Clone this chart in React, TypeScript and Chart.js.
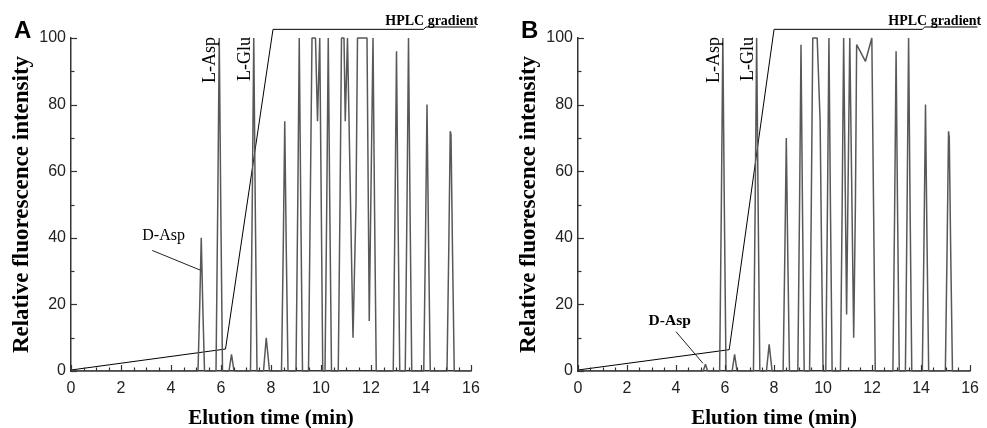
import React, { useEffect, useRef } from 'react';
import { Chart, registerables } from 'chart.js';
Chart.register(...registerables);

// ---- axis ticks ----
const xTickLabels = [0, 2, 4, 6, 8, 10, 12, 14, 16];
const yTickLabels = [0, 20, 40, 60, 80, 100];
const xMinorStep = 0.5;
const yMinorStep = 10;

// ---- Panel A chromatogram trace (time in min, relative intensity) ----
const signalTimeA = [0,
  5.08, 5.15, 5.21, 5.27, 5.34,
  5.80, 5.87, 5.93, 5.99, 6.06,
  6.32, 6.42, 6.52,
  7.18, 7.25, 7.31, 7.37, 7.44,
  7.70, 7.81, 7.94,
  8.42, 8.49, 8.55, 8.61, 8.68,
  9.00, 9.07, 9.13, 9.19, 9.26,
  9.50, 9.57, 9.64, 9.78, 9.86, 9.95, 10.01, 10.07,
  10.16, 10.23, 10.29, 10.35, 10.42,
  10.69, 10.76, 10.82, 10.92, 10.97, 11.06, 11.28, 11.40, 11.46, 11.84, 11.93, 12.08, 12.14, 12.21,
  12.89, 12.96, 13.02, 13.08, 13.15,
  13.37, 13.44, 13.50, 13.56, 13.63,
  14.11, 14.18, 14.24, 14.30, 14.37,
  15.04, 15.11, 15.17, 15.20, 15.26, 15.33,
  16];
const signalValueA = [0,
  0, 20, 40, 20, 0,
  0, 50, 100, 50, 0,
  0, 5, 0,
  0, 50, 100, 50, 0,
  0, 10, 0,
  0, 37, 75, 37, 0,
  0, 50, 100, 50, 0,
  0, 50, 100, 100, 75, 100, 50, 0,
  0, 50, 100, 50, 0,
  0, 50, 100, 100, 75, 100, 10, 50, 100, 100, 15, 100, 50, 0,
  0, 48, 96, 48, 0,
  0, 50, 100, 50, 0,
  0, 40, 80, 40, 0,
  0, 36, 72, 71, 36, 0,
  0];
const gradientTimeA = [0, 6.18, 8.08, 14.1, 14.2, 16.2];
const gradientValueA = [0.3, 6.6, 102.6, 102.6, 103.3, 103.3];

// ---- Panel B chromatogram trace ----
const signalTimeB = [0,
  5.11, 5.20, 5.29,
  5.78, 5.85, 5.91, 5.97, 6.04,
  6.29, 6.39, 6.49,
  7.16, 7.23, 7.29, 7.35, 7.42,
  7.69, 7.80, 7.92,
  8.37, 8.44, 8.50, 8.56, 8.63,
  8.97, 9.04, 9.10, 9.16, 9.23,
  9.45, 9.52, 9.58, 9.76, 9.88, 9.94, 10.00,
  10.11, 10.18, 10.24, 10.30, 10.37,
  10.71, 10.78, 10.84, 10.96, 11.09, 11.25, 11.32, 11.37, 11.73, 11.99, 12.06, 12.13,
  12.85, 12.92, 12.98, 13.04, 13.11,
  13.36, 13.43, 13.49, 13.55, 13.62,
  14.05, 14.12, 14.18, 14.24, 14.31,
  14.99, 15.06, 15.12, 15.15, 15.21, 15.28,
  16];
const signalValueB = [0,
  0, 2, 0,
  0, 50, 100, 50, 0,
  0, 5, 0,
  0, 50, 100, 50, 0,
  0, 8, 0,
  0, 35, 70, 35, 0,
  0, 49, 98, 49, 0,
  0, 50, 100, 100, 75, 35, 0,
  0, 50, 100, 50, 0,
  0, 50, 100, 17, 100, 10, 50, 98, 93, 100, 50, 0,
  0, 48, 96, 48, 0,
  0, 50, 100, 50, 0,
  0, 40, 80, 40, 0,
  0, 36, 72, 70, 35, 0,
  0];
const gradientTimeB = [0, 6.17, 8.0, 14.05, 14.15, 16.3];
const gradientValueB = [0.3, 6.4, 102.6, 102.6, 103.3, 103.3];

// ---- annotation anchors (data units) ----
const labelLAspTime = [5.93, 5.91];
const labelLGluTime = [7.31, 7.29];
const labelDAspText = [[2.85, 40.5], [2.88, 15]];
const leaderDAsp = [[3.25, 36.2, 5.17, 30.3], [4.0, 11.8, 5.1, 2.3]];
const hplcLabelAt = [[12.57, 103.8], [12.66, 103.8]];

const CA_LEFT = 71;
const CA_RIGHT = 471;
const CA_TOP = 38;
const H = 428;

type PanelProps = {
  idx: number;
  letter: string;
  left: number;
  width: number;
  sigT: number[];
  sigV: number[];
  gradT: number[];
  gradV: number[];
  dAspBold: boolean;
};

function Panel(p: PanelProps) {
  const ref = useRef<HTMLCanvasElement>(null);
  useEffect(() => {
    const idx = p.idx;
    const deco = {
      id: 'deco' + idx,
      afterDraw(chart: any) {
        const ctx = chart.ctx;
        const xs = chart.scales.x;
        const ys = chart.scales.y;
        const ca = chart.chartArea;
        ctx.save();
        // inward ticks
        ctx.strokeStyle = '#333';
        ctx.lineWidth = 1.2;
        for (let v = 0; v <= 16 + 1e-9; v += xMinorStep) {
          const px = Math.round(xs.getPixelForValue(v)) + 0.5;
          const major = xTickLabels.includes(Math.round(v * 10) / 10);
          const len = major ? 6 : 3.5;
          ctx.beginPath();
          ctx.moveTo(px, ca.bottom);
          ctx.lineTo(px, ca.bottom - len);
          ctx.stroke();
        }
        for (let v = 0; v <= 100 + 1e-9; v += yMinorStep) {
          const py = Math.round(ys.getPixelForValue(v)) + 0.5;
          const major = yTickLabels.includes(v);
          const len = major ? 6 : 3.5;
          ctx.beginPath();
          ctx.moveTo(ca.left, py);
          ctx.lineTo(ca.left + len, py);
          ctx.stroke();
        }
        // panel letter
        ctx.fillStyle = '#000';
        ctx.font = 'bold 24px "Liberation Sans", Arial, sans-serif';
        ctx.textAlign = 'left';
        ctx.textBaseline = 'alphabetic';
        ctx.fillText(p.letter, 14, 38);
        // vertical peak labels
        const top = ys.getPixelForValue(100);
        const vlabel = (t: number, text: string) => {
          ctx.save();
          ctx.translate(xs.getPixelForValue(t) - 4, top - 1);
          ctx.rotate(-Math.PI / 2);
          ctx.font = '18px "Liberation Serif", "Times New Roman", serif';
          ctx.textAlign = 'right';
          ctx.textBaseline = 'alphabetic';
          ctx.fillStyle = '#000';
          ctx.fillText(text, 0, 0);
          ctx.restore();
        };
        vlabel(labelLAspTime[idx], 'L-Asp');
        vlabel(labelLGluTime[idx], 'L-Glu');
        // D-Asp label with leader
        const [dt, dv] = labelDAspText[idx];
        ctx.font = (p.dAspBold ? 'bold 15.5px' : '16px') + ' "Liberation Serif", "Times New Roman", serif';
        ctx.textAlign = 'left';
        ctx.textBaseline = 'middle';
        ctx.fillText('D-Asp', xs.getPixelForValue(dt), ys.getPixelForValue(dv));
        const [x1, y1, x2, y2] = leaderDAsp[idx];
        ctx.strokeStyle = '#222';
        ctx.lineWidth = 1;
        ctx.beginPath();
        ctx.moveTo(xs.getPixelForValue(x1), ys.getPixelForValue(y1));
        ctx.lineTo(xs.getPixelForValue(x2), ys.getPixelForValue(y2));
        ctx.stroke();
        // HPLC gradient
        const [ht, hv] = hplcLabelAt[idx];
        ctx.font = 'bold 14px "Liberation Serif", "Times New Roman", serif';
        ctx.textAlign = 'left';
        ctx.textBaseline = 'alphabetic';
        ctx.fillText('HPLC gradient', xs.getPixelForValue(ht), ys.getPixelForValue(hv));
        ctx.restore();
      },
    };
    const chart = new Chart(ref.current as HTMLCanvasElement, {
      type: 'line',
      data: {
        datasets: [
          {
            data: p.sigT.map((t, i) => ({ x: t, y: p.sigV[i] })),
            borderColor: '#585858',
            borderWidth: 1.5,
            pointRadius: 0,
            tension: 0,
            fill: false,
            clip: false,
            borderJoinStyle: 'bevel',
          } as any,
          {
            data: p.gradT.map((t, i) => ({ x: t, y: p.gradV[i] })),
            borderColor: '#000',
            borderWidth: 1,
            pointRadius: 0,
            tension: 0,
            fill: false,
            clip: false,
          } as any,
        ],
      },
      options: {
        animation: false,
        responsive: false,
        maintainAspectRatio: false,
        events: [],
        layout: { padding: { top: CA_TOP, right: p.width - CA_RIGHT, left: 0, bottom: 0 } },
        plugins: { legend: { display: false }, tooltip: { enabled: false } },
        scales: {
          x: {
            type: 'linear',
            min: 0,
            max: 16,
            afterFit: (s: any) => { s.height = H - 371; },
            grid: { display: false, drawTicks: false },
            border: { display: true, color: '#333', width: 1.5 },
            ticks: {
              stepSize: 2,
              padding: 8,
              color: '#222',
              maxRotation: 0,
              autoSkip: false,
              font: { family: '"Liberation Sans", Arial, sans-serif', size: 16 },
            },
            title: {
              display: true,
              text: 'Elution time (min)',
              color: '#000',
              padding: 0,
              font: { family: '"Liberation Serif", "Times New Roman", serif', size: 21, weight: 'bold', lineHeight: 0.85 },
            },
          },
          y: {
            type: 'linear',
            min: 0,
            max: 100,
            afterFit: (s: any) => { s.width = CA_LEFT; },
            grid: { display: false, drawTicks: false },
            border: { display: true, color: '#333', width: 1.5 },
            ticks: {
              stepSize: 20,
              padding: 5,
              color: '#222',
              font: { family: '"Liberation Sans", Arial, sans-serif', size: 16 },
            },
            title: {
              display: true,
              text: 'Relative fluorescence intensity',
              color: '#000',
              padding: { top: 8, bottom: 0 },
              font: { family: '"Liberation Serif", "Times New Roman", serif', size: 23, weight: 'bold' },
            },
          },
        },
      } as any,
      plugins: [deco],
    });
    return () => chart.destroy();
  }, []);
  return (
    <canvas
      ref={ref}
      width={p.width}
      height={H}
      style={{ position: 'absolute', left: p.left, top: 0, width: p.width, height: H }}
    />
  );
}

export default function App() {
  return (
    <div style={{ position: 'fixed', left: 0, top: 0, width: 987, height: 428, overflow: 'hidden', background: '#fff' }}>
      <Panel idx={0} letter="A" left={0} width={494} sigT={signalTimeA} sigV={signalValueA} gradT={gradientTimeA} gradV={gradientValueA} dAspBold={false} />
      <Panel idx={1} letter="B" left={507} width={480} sigT={signalTimeB} sigV={signalValueB} gradT={gradientTimeB} gradV={gradientValueB} dAspBold={true} />
    </div>
  );
}
